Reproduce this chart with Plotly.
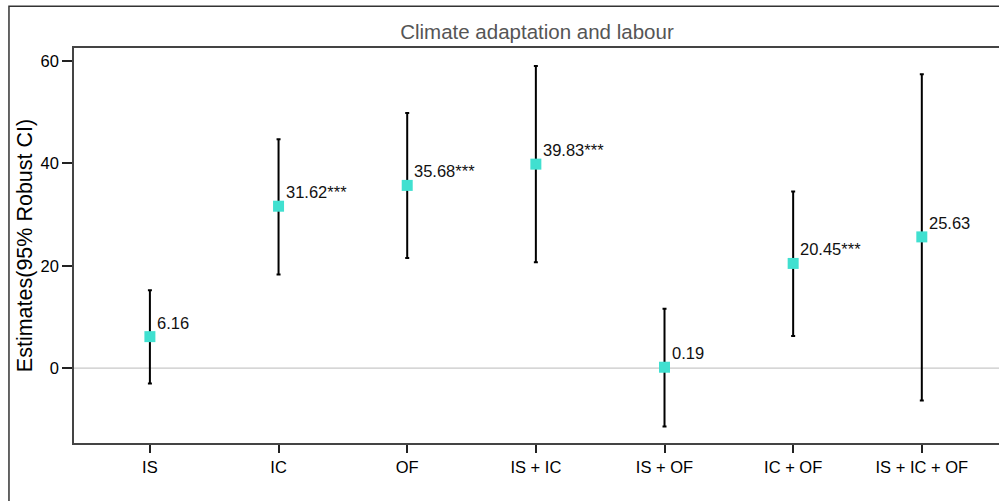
import plotly.graph_objects as go

categories = ["IS", "IC", "OF", "IS + IC", "IS + OF", "IC + OF", "IS + IC + OF"]
estimates = [6.16, 31.62, 35.68, 39.83, 0.19, 20.45, 25.63]
ci_low = [-3.0, 18.3, 21.5, 20.7, -11.4, 6.3, -6.3]
ci_high = [15.2, 44.7, 49.8, 59.0, 11.6, 34.5, 57.4]
labels = ["6.16", "31.62***", "35.68***", "39.83***", "0.19", "20.45***", "25.63"]
y_ticks = [0, 20, 40, 60]

err_plus = [h - e for h, e in zip(ci_high, estimates)]
err_minus = [e - l for e, l in zip(estimates, ci_low)]
xpos = list(range(len(categories)))

fig = go.Figure()
fig.add_trace(go.Scatter(
    x=xpos, y=estimates, mode="markers",
    marker=dict(symbol="square", size=11, color="#40E0D0"),
    error_y=dict(type="data", symmetric=False, array=err_plus, arrayminus=err_minus,
                 color="black", thickness=2, width=2),
    showlegend=False,
))
for x, y, t in zip(xpos, estimates, labels):
    fig.add_annotation(x=x, y=y, text=t, showarrow=False, xanchor="left", yanchor="bottom",
                       xshift=5, yshift=3, font=dict(size=16.5, color="#111"))

fig.add_shape(type="line", xref="paper", yref="y", x0=0, x1=1, y0=0, y1=0,
              line=dict(color="#c8c8c8", width=1.2), layer="below")
fig.add_shape(type="rect", xref="paper", yref="paper", x0=-0.0703, x1=1.2, y0=-0.3, y1=1.106,
              line=dict(color="#333", width=1.5), fillcolor="rgba(0,0,0,0)")

fig.update_layout(
    width=999, height=501,
    margin=dict(l=74, r=0, t=48, b=58, autoexpand=False),
    paper_bgcolor="white", plot_bgcolor="white",
    font=dict(family="Liberation Sans, Arial, sans-serif", color="black"),
    title=dict(text="Climate adaptation and labour", x=0.5375, xanchor="center", y=0.936, yanchor="middle",
               font=dict(size=20.5, color="#555")),
    xaxis=dict(tickmode="array", tickvals=xpos, ticktext=categories, range=[-0.59, 6.6],
               showgrid=False, zeroline=False, showline=True, linecolor="#444", linewidth=1.5,
               mirror=True, ticks="outside", ticklen=8, tickwidth=2, tickcolor="#222",
               tickfont=dict(size=16.5), automargin=False),
    yaxis=dict(tickmode="array", tickvals=y_ticks, range=[-14.6, 62.5],
               showgrid=False, zeroline=False, showline=True, linecolor="#444", linewidth=1.5,
               ticks="outside", ticklen=10, tickwidth=2, tickcolor="#222",
               tickfont=dict(size=16.5), automargin=False,
               title=dict(text="Estimates(95% Robust CI)", font=dict(size=21.5), standoff=2)),
)
fig.write_html("out.html", post_script="document.body.style.margin='0';",
               config={"displayModeBar": False})
